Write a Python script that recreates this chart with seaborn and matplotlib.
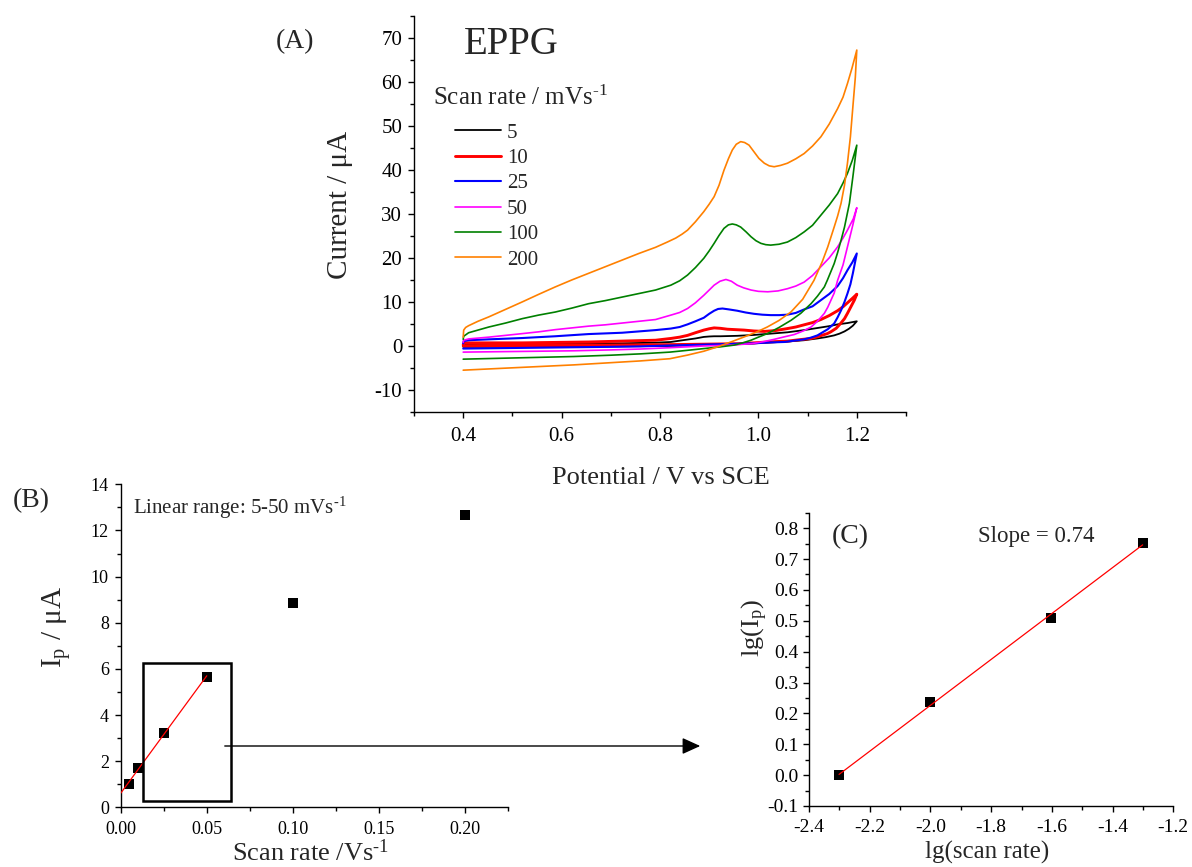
import numpy as np
import pandas as pd
import matplotlib
matplotlib.use("Agg")
import matplotlib.pyplot as plt
from matplotlib.patches import Rectangle, FancyArrowPatch
from matplotlib.ticker import MultipleLocator, FuncFormatter
import seaborn as sns

# ---------------- cyclic voltammograms at EPPG (potential / V, current / uA) ----------------
cv5_E = [0.400, 0.402, 0.452, 0.520, 0.587, 0.655, 0.723, 0.791, 0.822, 0.840, 0.856, 0.872,
         0.889, 0.900, 0.910, 0.923, 0.940, 0.957, 0.991, 1.025, 1.059, 1.093, 1.127, 1.144,
         1.161, 1.181, 1.200,
         1.192, 1.184, 1.175, 1.165, 1.154, 1.137, 1.120, 1.093, 1.059, 1.025, 0.991, 0.957,
         0.889, 0.820, 0.700, 0.550, 0.400]
cv5_I = [0.1, 0.4, 0.4, 0.45, 0.5, 0.55, 0.6, 0.75, 0.9, 1.2, 1.45, 1.7,
         2.05, 2.15, 2.2, 2.2, 2.25, 2.3, 2.5, 2.8, 3.1, 3.6, 4.2, 4.5,
         4.9, 5.2, 5.6,
         4.6, 3.9, 3.3, 2.8, 2.4, 2.0, 1.7, 1.3, 1.0, 0.8, 0.6, 0.4,
         0.2, 0.0, -0.1, -0.15, -0.2]

cv10_E = [0.400, 0.402, 0.452, 0.520, 0.587, 0.655, 0.723, 0.791, 0.822, 0.840, 0.856, 0.872,
          0.889, 0.900, 0.910, 0.923, 0.937, 0.954, 0.971, 0.991, 1.012, 1.035, 1.059, 1.076,
          1.093, 1.110, 1.127, 1.144, 1.161, 1.172, 1.181, 1.191, 1.200,
          1.195, 1.188, 1.181, 1.175, 1.167, 1.158, 1.147, 1.140, 1.120, 1.107, 1.086, 1.059,
          1.018, 0.991, 0.957, 0.889, 0.820, 0.700, 0.550, 0.400]
cv10_I = [0.3, 0.7, 0.7, 0.7, 0.8, 0.9, 1.1, 1.3, 1.7, 2.0, 2.4, 3.0,
          3.6, 3.9, 4.1, 4.0, 3.8, 3.7, 3.6, 3.4, 3.3, 3.5, 3.95, 4.3,
          4.8, 5.3, 6.0, 6.9, 8.0, 8.9, 9.8, 10.8, 11.75,
          10.4, 8.9, 7.4, 6.2, 5.1, 4.0, 3.2, 2.8, 2.1, 1.7, 1.45, 1.1,
          0.9, 0.7, 0.5, 0.4, 0.3, 0.2, 0.1, 0.0]

cv25_E = [0.400, 0.401, 0.411, 0.452, 0.520, 0.587, 0.655, 0.723, 0.791, 0.822, 0.840, 0.856,
          0.872, 0.889, 0.900, 0.910, 0.918, 0.927, 0.940, 0.957, 0.974, 0.991, 1.008, 1.025,
          1.042, 1.059, 1.076, 1.093, 1.110, 1.127, 1.144, 1.161, 1.172, 1.181, 1.191, 1.200,
          1.192, 1.187, 1.181, 1.175, 1.168, 1.161, 1.154, 1.141, 1.120, 1.107, 1.093, 1.053,
          1.025, 0.991, 0.957, 0.889, 0.820, 0.760, 0.700, 0.625, 0.550, 0.475, 0.400]
cv25_I = [0.6, 1.1, 1.3, 1.5, 1.8, 2.2, 2.7, 3.0, 3.6, 3.95, 4.3, 4.9,
          5.6, 6.4, 7.3, 8.0, 8.4, 8.5, 8.3, 8.0, 7.6, 7.3, 7.1, 7.0,
          7.0, 7.1, 7.5, 8.3, 9.0, 10.4, 11.8, 13.6, 15.4, 17.2, 19.0, 21.0,
          16.5, 14.0, 11.9, 10.0, 8.1, 6.5, 5.1, 3.8, 2.4, 1.9, 1.5, 0.9,
          0.8, 0.6, 0.5, 0.3, 0.1, -0.1, -0.2, -0.3, -0.4, -0.5, -0.6]

cv50_E = [0.400, 0.401, 0.411, 0.452, 0.486, 0.520, 0.553, 0.587, 0.621, 0.655, 0.689, 0.723,
          0.757, 0.791, 0.822, 0.840, 0.856, 0.872, 0.889, 0.900, 0.910, 0.922, 0.934, 0.945,
          0.957, 0.970, 0.985, 1.000, 1.019, 1.040, 1.059, 1.076, 1.093, 1.110, 1.127, 1.144,
          1.161, 1.172, 1.181, 1.193, 1.200,
          1.192, 1.181, 1.172, 1.161, 1.154, 1.141, 1.134, 1.120, 1.107, 1.093,
          1.073, 1.052, 1.032, 1.012, 0.985, 0.957, 0.923, 0.889, 0.855, 0.820, 0.760, 0.700,
          0.625, 0.550, 0.475, 0.400]
cv50_I = [0.8, 1.3, 1.6, 2.0, 2.4, 2.8, 3.2, 3.7, 4.1, 4.5, 4.8, 5.2,
          5.6, 6.0, 7.0, 7.6, 8.5, 9.8, 11.5, 12.7, 13.8, 14.7, 15.1, 14.7,
          13.8, 13.2, 12.7, 12.4, 12.3, 12.5, 13.0, 13.6, 14.5, 16.0, 18.0, 20.0,
          22.5, 24.5, 26.3, 28.9, 31.4,
          27.5, 22.5, 18.4, 14.9, 12.0, 8.8, 7.4, 5.6, 4.3, 3.5,
          2.6, 2.05, 1.5, 1.0, 0.5, 0.3, 0.1, 0.0, -0.2, -0.4, -0.7, -0.9,
          -1.1, -1.2, -1.3, -1.4]

cv100_E = [0.400, 0.401, 0.411, 0.452, 0.486, 0.520, 0.553, 0.587, 0.621, 0.655, 0.689, 0.723,
           0.757, 0.791, 0.822, 0.840, 0.856, 0.872, 0.889, 0.900, 0.910, 0.920, 0.930, 0.939,
           0.947, 0.955, 0.964, 0.975, 0.985, 0.995, 1.005, 1.015, 1.025, 1.042, 1.059, 1.076,
           1.093, 1.110, 1.127, 1.144, 1.161, 1.172, 1.181, 1.191, 1.200,
           1.192, 1.185, 1.175, 1.168, 1.161, 1.154, 1.140, 1.134, 1.120, 1.107, 1.086, 1.066,
           1.042, 1.018, 1.000, 0.985, 0.968, 0.951, 0.923, 0.889, 0.855, 0.820, 0.760, 0.700,
           0.625, 0.550, 0.475, 0.400]
cv100_I = [1.5, 2.2, 3.0, 4.3, 5.2, 6.2, 7.0, 7.7, 8.6, 9.6, 10.3, 11.1,
           11.9, 12.7, 13.8, 14.8, 16.1, 17.8, 19.9, 21.6, 23.3, 25.1, 26.7, 27.5,
           27.7, 27.5, 27.0, 25.9, 24.8, 23.9, 23.3, 23.0, 22.9, 23.1, 23.6, 24.6,
           25.9, 27.4, 29.7, 32.0, 34.6, 37.0, 39.2, 42.2, 45.6,
           38.4, 32.4, 27.0, 24.0, 21.2, 18.7, 14.9, 13.4, 11.3, 9.6, 7.4, 5.8,
           4.2, 2.8, 2.0, 1.3, 0.7, 0.2, -0.2, -0.6, -1.0, -1.4, -1.8, -2.1,
           -2.4, -2.6, -2.8, -3.0]

cv200_E = [0.400, 0.401, 0.405, 0.411, 0.430, 0.452, 0.486, 0.520, 0.553, 0.587, 0.621, 0.655,
           0.689, 0.723, 0.757, 0.791, 0.815, 0.832, 0.845, 0.856, 0.872, 0.889, 0.900, 0.910,
           0.920, 0.930, 0.939, 0.947, 0.955, 0.964, 0.972, 0.981, 0.991, 1.001, 1.012, 1.022,
           1.032, 1.045, 1.059, 1.076, 1.093, 1.110, 1.127, 1.144, 1.161, 1.172, 1.181, 1.190,
           1.200,
           1.197, 1.192, 1.187, 1.181, 1.175, 1.168, 1.161, 1.154, 1.141, 1.130, 1.113, 1.090,
           1.066, 1.042, 1.018, 0.995, 0.971, 0.944, 0.917, 0.889, 0.855, 0.820, 0.760, 0.700,
           0.625, 0.550, 0.475, 0.400]
cv200_I = [2.0, 3.6, 4.2, 4.6, 5.6, 6.6, 8.3, 10.0, 11.7, 13.4, 15.0, 16.5,
           18.0, 19.5, 21.0, 22.4, 23.6, 24.5, 25.4, 26.3, 28.2, 30.5, 32.2, 33.9,
           36.5, 39.9, 42.5, 44.5, 45.8, 46.4, 46.2, 45.6, 44.1, 42.6, 41.5, 40.9,
           40.7, 41.0, 41.5, 42.5, 43.7, 45.4, 47.5, 50.4, 53.9, 56.5, 59.6, 63.0,
           67.2,
           61.0, 54.3, 47.5, 41.5, 36.5, 32.4, 29.5, 27.0, 22.5, 19.2, 14.9, 10.6,
           7.7, 5.8, 4.3, 3.1, 2.05, 0.9, -0.2, -1.2, -2.1, -2.9, -3.4, -3.8,
           -4.3, -4.7, -5.1, -5.5]

scan_labels = ["5", "10", "25", "50", "100", "200"]
scan_colors = ["#000000", "#FF0000", "#0000FF", "#FF00FF", "#008000", "#FF8000"]
scan_widths = [1.3, 2.1, 1.5, 1.2, 1.2, 1.2]

# ---------------- peak current vs scan rate ----------------
scan_rate = [0.005, 0.01, 0.025, 0.05, 0.1, 0.2]      # V/s
peak_current = [1.0, 1.72, 3.22, 5.66, 8.87, 12.68]   # uA
n_linear = 4                                          # 5-50 mV/s

# ---------------- style ----------------
sns.set_theme(style="ticks")
plt.rcParams.update({
    "font.family": ["Liberation Serif", "DejaVu Sans"],
    "mathtext.fontset": "custom",
    "mathtext.rm": "Liberation Serif",
    "mathtext.it": "Liberation Serif:italic",
    "mathtext.default": "regular",
    "axes.unicode_minus": False,
    "axes.linewidth": 1.0,
    "axes.edgecolor": "black",
    "xtick.color": "black",
    "ytick.color": "black",
    "xtick.direction": "out",
    "ytick.direction": "out",
    "xtick.major.size": 4.5,
    "ytick.major.size": 4.5,
    "xtick.minor.size": 2.6,
    "ytick.minor.size": 2.6,
    "xtick.major.width": 1.0,
    "ytick.major.width": 1.0,
    "xtick.minor.width": 1.0,
    "ytick.minor.width": 1.0,
})

W, H = 1192, 867
fig = plt.figure(figsize=(W / 100, H / 100), dpi=100)

INV = r"$^{\text{-1}}$"   # superscript "-1" with a plain hyphen


def fx(px):
    return px / W


def fy(py):
    return 1 - py / H


def fmt(decimals):
    return FuncFormatter(lambda v, _: f"{round(v, decimals) + 0.0:.{decimals}f}")


# ---------------- (A) cyclic voltammograms ----------------
axA = fig.add_axes([fx(414), fy(412), fx(906) - fx(414), fy(15.7) - fy(412)])
cv_E = [cv5_E, cv10_E, cv25_E, cv50_E, cv100_E, cv200_E]
cv_I = [cv5_I, cv10_I, cv25_I, cv50_I, cv100_I, cv200_I]
for lab, E, I, c, lw in zip(scan_labels, cv_E, cv_I, scan_colors, scan_widths):
    df = pd.DataFrame({"E": E, "I": I})
    sns.lineplot(data=df, x="E", y="I", sort=False, estimator=None, color=c,
                 linewidth=lw, label=lab, ax=axA)

axA.set_xlim(0.3, 1.3)
axA.set_ylim(-15, 75)
axA.xaxis.set_major_locator(MultipleLocator(0.2))
axA.xaxis.set_minor_locator(MultipleLocator(0.1))
axA.yaxis.set_major_locator(MultipleLocator(10))
axA.yaxis.set_minor_locator(MultipleLocator(5))
axA.xaxis.set_major_formatter(fmt(1))
axA.yaxis.set_major_formatter(fmt(0))
axA.tick_params(axis="x", labelsize=15, pad=6.5)
axA.tick_params(axis="y", labelsize=15, pad=4)
axA.set_xlabel("Potential / V vs SCE", fontsize=19, va="center")
axA.set_ylabel("Current / μA", fontsize=21, va="center")
axA.xaxis.set_label_coords(0.502, -0.1665)
axA.yaxis.set_label_coords(-0.150, 0.522)
sns.despine(ax=axA)

handles, labels = axA.get_legend_handles_labels()
axA.legend(handles, labels, loc="upper left",
           bbox_to_anchor=(fx(455), fy(123)), bbox_transform=fig.transFigure,
           frameon=False, fontsize=15, handlelength=2.2, handletextpad=0.3,
           labelspacing=0.28, borderpad=0, borderaxespad=0)
fig.text(fx(433), fy(98), "Scan rate / mVs" + INV, fontsize=18, ha="left", va="center")
fig.text(fx(295), fy(42), "(A)", fontsize=20, ha="center", va="center")
fig.text(fx(511), fy(45), "EPPG", fontsize=28, ha="center", va="center")

# ---------------- (B) peak current vs scan rate ----------------
axB = fig.add_axes([fx(120.7), fy(807.3), fx(508) - fx(120.7), fy(484.3) - fy(807.3)])
dfB = pd.DataFrame({"rate": scan_rate, "ip": peak_current})
lin = dfB.iloc[:n_linear]
kB, bB = np.polyfit(lin["rate"], lin["ip"], 1)
fitB = pd.DataFrame({"rate": [0.0, lin["rate"].max()]})
fitB["ip"] = kB * fitB["rate"] + bB
sns.scatterplot(data=dfB, x="rate", y="ip", marker="s", s=48, color="black",
                edgecolor="black", linewidth=0, ax=axB, zorder=3)
sns.lineplot(data=fitB, x="rate", y="ip", color="red", linewidth=0.9, ax=axB, zorder=4)

axB.set_xlim(0, 0.225)
axB.set_ylim(0, 14)
axB.xaxis.set_major_locator(MultipleLocator(0.05))
axB.xaxis.set_minor_locator(MultipleLocator(0.025))
axB.yaxis.set_major_locator(MultipleLocator(2))
axB.yaxis.set_minor_locator(MultipleLocator(1))
axB.xaxis.set_major_formatter(fmt(2))
axB.yaxis.set_major_formatter(fmt(0))
axB.tick_params(axis="x", labelsize=13, pad=5.5)
axB.tick_params(axis="y", labelsize=13, pad=4)
axB.set_xlabel("Scan rate /Vs" + INV, fontsize=19, va="baseline")
axB.set_ylabel("I$_p$ / μA", fontsize=21, va="center")
axB.xaxis.set_label_coords(0.491, -0.165)
axB.yaxis.set_label_coords(-0.167, 0.558)
sns.despine(ax=axB)
axB.add_patch(Rectangle((0.058, 0.0195), 0.2276, 0.4263, transform=axB.transAxes,
                        fill=False, edgecolor="black", linewidth=1.8, zorder=5))
axB.text(0.032, 0.927, "Linear range: 5-50 mVs" + INV, transform=axB.transAxes,
         fontsize=15, ha="left", va="center")
fig.text(fx(31), fy(501), "(B)", fontsize=20, ha="center", va="center")

# ---------------- (C) log-log plot ----------------
axC = fig.add_axes([fx(809), fy(806), fx(1173.3) - fx(809), fy(512.7) - fy(806)])
dfC = pd.DataFrame({"lgv": np.log10(scan_rate[:n_linear]),
                    "lgi": np.log10(peak_current[:n_linear])})
kC, bC = np.polyfit(dfC["lgv"], dfC["lgi"], 1)
fitC = pd.DataFrame({"lgv": [dfC["lgv"].min(), dfC["lgv"].max()]})
fitC["lgi"] = kC * fitC["lgv"] + bC
sns.scatterplot(data=dfC, x="lgv", y="lgi", marker="s", s=48, color="black",
                edgecolor="black", linewidth=0, ax=axC, zorder=3)
sns.lineplot(data=fitC, x="lgv", y="lgi", color="red", linewidth=0.9, ax=axC, zorder=4)

axC.set_xlim(-2.4, -1.2)
axC.set_ylim(-0.1, 0.85)
axC.xaxis.set_major_locator(MultipleLocator(0.2))
axC.xaxis.set_minor_locator(MultipleLocator(0.1))
axC.yaxis.set_major_locator(MultipleLocator(0.1))
axC.yaxis.set_minor_locator(MultipleLocator(0.05))
axC.xaxis.set_major_formatter(fmt(1))
axC.yaxis.set_major_formatter(fmt(1))
axC.tick_params(axis="x", labelsize=14, pad=5)
axC.tick_params(axis="y", labelsize=14, pad=3)
axC.set_xlabel("lg(scan rate)", fontsize=18, va="center")
axC.set_ylabel("lg(I$_p$)", fontsize=19, va="center")
axC.xaxis.set_label_coords(0.4886, -0.160)
axC.yaxis.set_label_coords(-0.148, 0.607)
sns.despine(ax=axC)
axC.text(0.463, 0.92, f"Slope = {kC:.2f}", transform=axC.transAxes,
         fontsize=16.5, ha="left", va="center")
fig.text(fx(850), fy(537), "(C)", fontsize=20, ha="center", va="center")

# arrow linking the linear range in (B) to the log-log plot in (C)
fig.add_artist(FancyArrowPatch((fx(222), fy(746)), (fx(703), fy(746)),
                               transform=fig.transFigure,
                               arrowstyle="-|>,head_length=1.1,head_width=0.5",
                               mutation_scale=10, linewidth=1.0, color="black"))

fig.savefig("out.png", dpi=100)
